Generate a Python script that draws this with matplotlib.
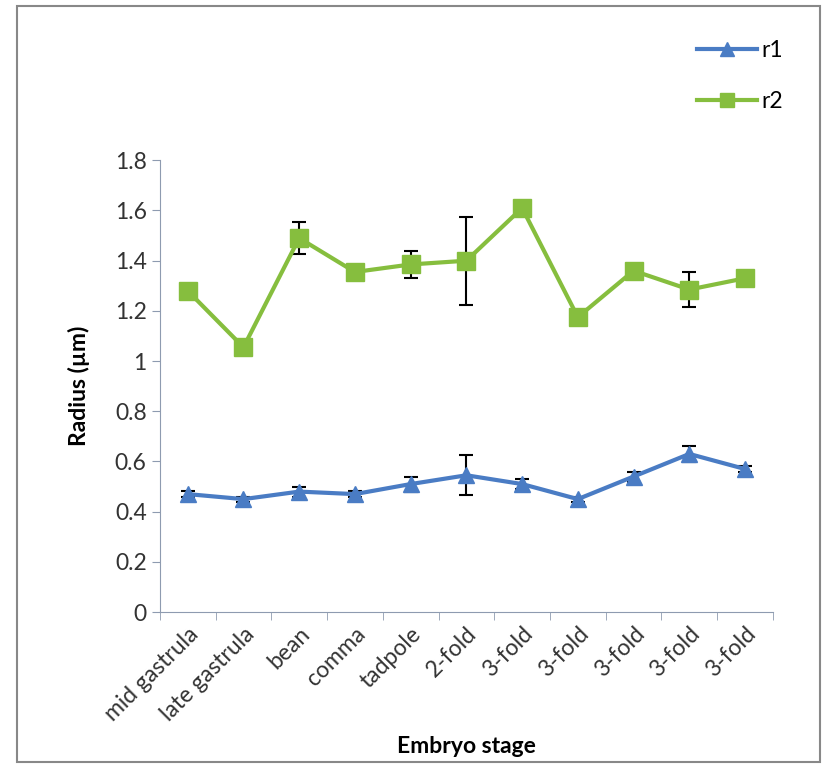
import matplotlib.pyplot as plt
import numpy as np
from matplotlib.patches import Rectangle

plt.rcParams['font.family'] = ['Lato', 'DejaVu Sans']

stages = ['mid gastrula', 'late gastrula', 'bean', 'comma', 'tadpole', '2-fold',
          '3-fold', '3-fold', '3-fold', '3-fold', '3-fold']
r1 = [0.47, 0.45, 0.48, 0.47, 0.51, 0.545, 0.51, 0.45, 0.54, 0.63, 0.57]
r1_err = [0.012, 0.01, 0.02, 0.012, 0.03, 0.08, 0.02, 0.01, 0.02, 0.033, 0.01]
r2 = [1.28, 1.055, 1.49, 1.355, 1.385, 1.40, 1.61, 1.175, 1.36, 1.285, 1.33]
r2_err = [0.0, 0.0, 0.065, 0.0, 0.055, 0.175, 0.0, 0.0, 0.0, 0.07, 0.0]

blue = '#4A7CC4'
green = '#86BE3E'
fs = 16.5

fig = plt.figure(figsize=(8.24, 7.67), dpi=100)
ax = fig.add_axes([0.194, 0.202, 0.744, 0.589])

x = np.arange(len(stages))
ax.errorbar(x, r1, yerr=r1_err, color=blue, lw=3, marker='^', ms=12,
            ecolor='black', elinewidth=1.5, capsize=5, capthick=1.5, label='r1', zorder=3)
ax.errorbar(x, r2, yerr=r2_err, color=green, lw=3, marker='s', ms=13,
            ecolor='black', elinewidth=1.5, capsize=5, capthick=1.5, label='r2', zorder=3)

ax.set_xlim(-0.5, len(stages) - 0.5)
ax.set_ylim(0, 1.8)
ax.set_yticks(np.arange(0, 1.81, 0.2))
ax.set_yticklabels(['0', '0.2', '0.4', '0.6', '0.8', '1', '1.2', '1.4', '1.6', '1.8'])
ax.set_xticks(x)
ax.set_xticklabels(stages, rotation=45, ha='right', rotation_mode='anchor')
ax.set_xticks(np.arange(-0.5, len(stages)), minor=True)
ax.tick_params(axis='x', which='major', length=0, pad=8, labelsize=fs)
ax.tick_params(axis='x', which='minor', length=6, color='#8E9BB0')
ax.tick_params(axis='y', length=6, color='#8E9BB0', labelsize=fs, labelcolor='#333333')
ax.tick_params(axis='x', labelcolor='#333333')
for s in ['top', 'right']:
    ax.spines[s].set_visible(False)
for s in ['left', 'bottom']:
    ax.spines[s].set_color('#8E9BB0')
ax.set_ylabel('Radius (µm)', fontsize=fs, fontweight='bold', labelpad=18)
ax.set_xlabel('Embryo stage', fontsize=fs, fontweight='bold', labelpad=8)

handles, labels = ax.get_legend_handles_labels()
handles = [h[0] for h in handles]
fig.legend(handles, labels, loc='upper right', bbox_to_anchor=(0.975, 0.975),
           frameon=False, fontsize=fs, labelspacing=1.3, handlelength=2.6,
           handletextpad=0.2, markerscale=0.8)

fig.patches.append(Rectangle((0.021, 0.007), 0.974, 0.985, transform=fig.transFigure,
                             fill=False, edgecolor='#888888', lw=1.5))

fig.savefig('out.png', dpi=100)
